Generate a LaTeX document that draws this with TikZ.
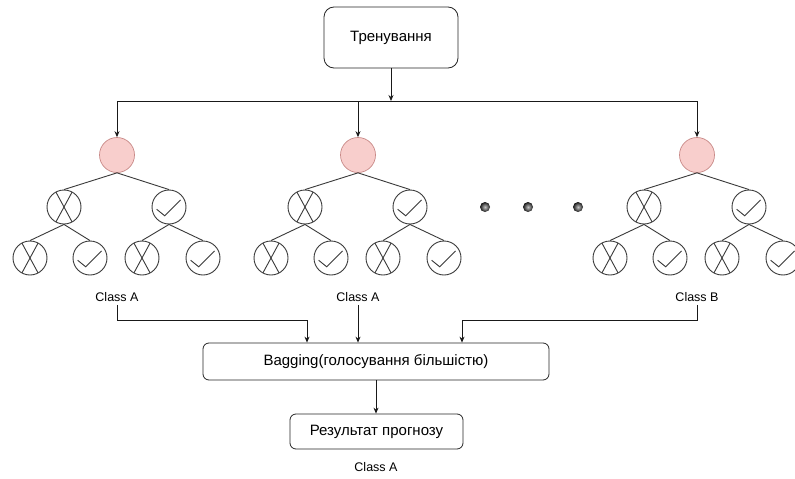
\documentclass[tikz,border=0pt]{standalone}
\usepackage{fontspec}
\setmainfont{Liberation Sans}
\usetikzlibrary{arrows.meta,calc}
\definecolor{pinkfill}{HTML}{F8CECC}
\definecolor{pinkdraw}{HTML}{C98A88}
\definecolor{ln}{HTML}{3A3A3A}
\begin{document}
\begin{tikzpicture}[x=1pt,y=-1pt,
  box/.style={draw=black!85, rounded corners=6pt, line width=0.8pt, font=\fontsize{15}{18}\selectfont, inner sep=0pt},
  leaf/.style={circle, draw=ln, line width=0.9pt, minimum size=34pt, inner sep=0pt},
  xleaf/.style={leaf, path picture={
     \draw[ln,line width=0.9pt]
       ([shift={(-8pt,14.8pt)}]path picture bounding box.center) -- ([shift={(8pt,-14.8pt)}]path picture bounding box.center)
       ([shift={(8pt,14.8pt)}]path picture bounding box.center) -- ([shift={(-8pt,-14.8pt)}]path picture bounding box.center);}},
  cleaf/.style={leaf, path picture={
     \draw[ln,line width=0.9pt]
       ([shift={(-12.4pt,-2.2pt)}]path picture bounding box.center) -- ([shift={(-4.3pt,-8.8pt)}]path picture bounding box.center)
       -- ([shift={(11.6pt,7pt)}]path picture bounding box.center);}},
  rootnode/.style={circle, draw=pinkdraw, fill=pinkfill, line width=0.7pt, minimum size=35pt, inner sep=0pt},
  edge/.style={draw=ln, line width=0.9pt},
  arr/.style={draw=black!90, line width=0.8pt, -{Stealth[length=6pt,width=5pt]}},
  ln0/.style={draw=black!90, line width=0.8pt},
  cls/.style={font=\fontsize{12.5}{14}\selectfont, inner sep=3pt},
  dotn/.style={circle, minimum size=10pt, inner sep=0pt, shading=radial, inner color=gray!45, outer color=black!90}
]
\fill[white] (0,0) rectangle (795,479);
\useasboundingbox (0,0) rectangle (795,479);
\clip (0,0) rectangle (795,479);

\node[box, rounded corners=10pt, minimum width=134pt, minimum height=61pt] (tb) at (391,37.5) {Тренування};
\node[box, minimum width=346pt, minimum height=37pt] (bag) at (376,361.5) {Bagging(голосування більшістю)};
\node[box, minimum width=173pt, minimum height=35pt] (res) at (376.5,431.5) {Результат прогнозу};
\node[cls] (fin) at (376,467) {Class A};

\coordinate (hl) at (117,101);
\coordinate (hr) at (697,101);
\draw[ln0] (hl) -- (hr);
\draw[arr] (tb.south) -- (tb.south |- hl);

\foreach \i/\rx in {1/117,2/358,3/697}{
  \node[rootnode] (r\i) at (\rx,155) {};
  \node[xleaf] (l\i) at (\rx-53,207) {};
  \node[cleaf] (m\i) at (\rx+52,207) {};
  \node[xleaf] (p\i) at (\rx-87,258) {};
  \node[cleaf] (q\i) at (\rx-27,258) {};
  \node[xleaf] (s\i) at (\rx+25,258) {};
  \node[cleaf] (t\i) at (\rx+86,258) {};
  \draw[edge] (r\i.south) -- (l\i.north);
  \draw[edge] (r\i.south) -- (m\i.north);
  \draw[edge] (l\i.south) -- (p\i.north);
  \draw[edge] (l\i.south) -- (q\i.north);
  \draw[edge] (m\i.south) -- (s\i.north);
  \draw[edge] (m\i.south) -- (t\i.north);
  \draw[arr] (r\i.north |- hl) -- (r\i.north);
}

\node[dotn] (d1) at (485,207) {};
\node[dotn] (d2) at (528,207) {};
\node[dotn] (d3) at (578,207) {};

\node[cls] (c1) at (117,297) {Class A};
\node[cls] (c2) at (358,297) {Class A};
\node[cls] (c3) at (697,297) {Class B};

\coordinate (j1) at (307,320);
\coordinate (j3) at (462,320);
\draw[arr] (c1.south) |- (j1) -- (j1 |- bag.north);
\draw[arr] (c2.south) -- (c2.south |- bag.north);
\draw[arr] (c3.south) |- (j3) -- (j3 |- bag.north);
\draw[arr] (bag.south) -- (bag.south |- res.north);
\end{tikzpicture}
\end{document}
